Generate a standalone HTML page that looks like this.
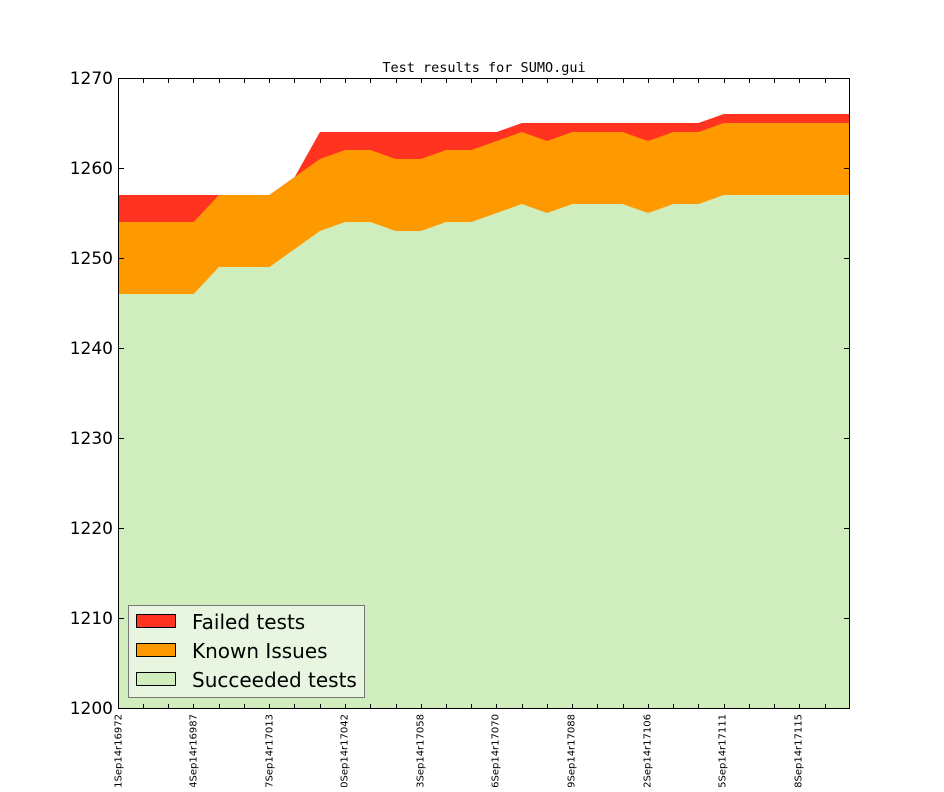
<!DOCTYPE html><html><head><style>body{margin:0;background:#fff}</style></head><body>
<svg width="944" height="787" xmlns="http://www.w3.org/2000/svg">
<rect width="944" height="787" fill="#fff"/>
<text x="484" y="72" font-family="DejaVu Sans Mono, monospace" font-size="13.5" text-anchor="middle">Test results for SUMO.gui</text>
<g transform="translate(118,708) scale(25.2414,-9)">
<polygon fill="#ff331f" points="0,0 0,57 1,57 2,57 3,57 4,57 5,57 6,57 7,59 8,64 9,64 10,64 11,64 12,64 13,64 14,64 15,64 16,65 17,65 18,65 19,65 20,65 21,65 22,65 23,65 24,66 25,66 26,66 27,66 28,66 29,66 29,0"/>
<polygon fill="#ff9900" points="0,0 0,54 1,54 2,54 3,54 4,57 5,57 6,57 7,59 8,61 9,62 10,62 11,61 12,61 13,62 14,62 15,63 16,64 17,63 18,64 19,64 20,64 21,63 22,64 23,64 24,65 25,65 26,65 27,65 28,65 29,65 29,0"/>
<polygon fill="#cfedbd" points="0,0 0,46 1,46 2,46 3,46 4,49 5,49 6,49 7,51 8,53 9,54 10,54 11,53 12,53 13,54 14,54 15,55 16,56 17,55 18,56 19,56 20,56 21,55 22,56 23,56 24,57 25,57 26,57 27,57 28,57 29,57 29,0"/>
</g>
<rect x="118.5" y="78.5" width="731" height="630" fill="none" stroke="#000" stroke-width="1"/>
<g stroke="#000" stroke-width="1">
<path d="M118 618.5h6M118 528.5h6M118 438.5h6M118 348.5h6M118 258.5h6M118 168.5h6M850 618.5h-6M850 528.5h-6M850 438.5h-6M850 348.5h-6M850 258.5h-6M850 168.5h-6"/>
<path d="M143.5 708v-4M168.5 708v-4M193.5 708v-4M219.5 708v-4M244.5 708v-4M269.5 708v-4M294.5 708v-4M320.5 708v-4M345.5 708v-4M370.5 708v-4M396.5 708v-4M421.5 708v-4M446.5 708v-4M471.5 708v-4M496.5 708v-4M522.5 708v-4M547.5 708v-4M572.5 708v-4M597.5 708v-4M623.5 708v-4M648.5 708v-4M673.5 708v-4M698.5 708v-4M724.5 708v-4M749.5 708v-4M774.5 708v-4M799.5 708v-4M825.5 708v-4"/>
<path d="M143.5 79v4M168.5 79v4M193.5 79v4M219.5 79v4M244.5 79v4M269.5 79v4M294.5 79v4M320.5 79v4M345.5 79v4M370.5 79v4M396.5 79v4M421.5 79v4M446.5 79v4M471.5 79v4M496.5 79v4M522.5 79v4M547.5 79v4M572.5 79v4M597.5 79v4M623.5 79v4M648.5 79v4M673.5 79v4M698.5 79v4M724.5 79v4M749.5 79v4M774.5 79v4M799.5 79v4M825.5 79v4"/>
</g>
<g font-family="DejaVu Sans, sans-serif" font-size="17" text-anchor="end">
<text x="113" y="714">1200</text><text x="113" y="624">1210</text><text x="113" y="534">1220</text><text x="113" y="444">1230</text><text x="113" y="354">1240</text><text x="113" y="264">1250</text><text x="113" y="174">1260</text><text x="113" y="84">1270</text>
</g>
<g font-family="DejaVu Sans, sans-serif" font-size="10" text-anchor="end">
<text transform="translate(121.5,714) rotate(-90)">01Sep14r16972</text>
<text transform="translate(196.5,714) rotate(-90)">04Sep14r16987</text>
<text transform="translate(272.5,714) rotate(-90)">07Sep14r17013</text>
<text transform="translate(347.5,714) rotate(-90)">10Sep14r17042</text>
<text transform="translate(423.5,714) rotate(-90)">13Sep14r17058</text>
<text transform="translate(498.5,714) rotate(-90)">16Sep14r17070</text>
<text transform="translate(574.5,714) rotate(-90)">19Sep14r17088</text>
<text transform="translate(650.5,714) rotate(-90)">22Sep14r17106</text>
<text transform="translate(725.5,714) rotate(-90)">25Sep14r17111</text>
<text transform="translate(801.5,714) rotate(-90)">28Sep14r17115</text>
</g>
<rect x="128.5" y="605.5" width="236" height="92" fill="#e8f5e0" stroke="#777"/>
<rect x="136.5" y="614.5" width="39" height="13" fill="#ff331f" stroke="#000"/>
<rect x="136.5" y="643.5" width="39" height="13" fill="#ff9900" stroke="#000"/>
<rect x="136.5" y="672.5" width="39" height="13" fill="#cfedbd" stroke="#000"/>
<g font-family="DejaVu Sans, sans-serif" font-size="20">
<text x="192" y="629">Failed tests</text>
<text x="192" y="658">Known Issues</text>
<text x="192" y="687">Succeeded tests</text>
</g>
</svg>
</body></html>
